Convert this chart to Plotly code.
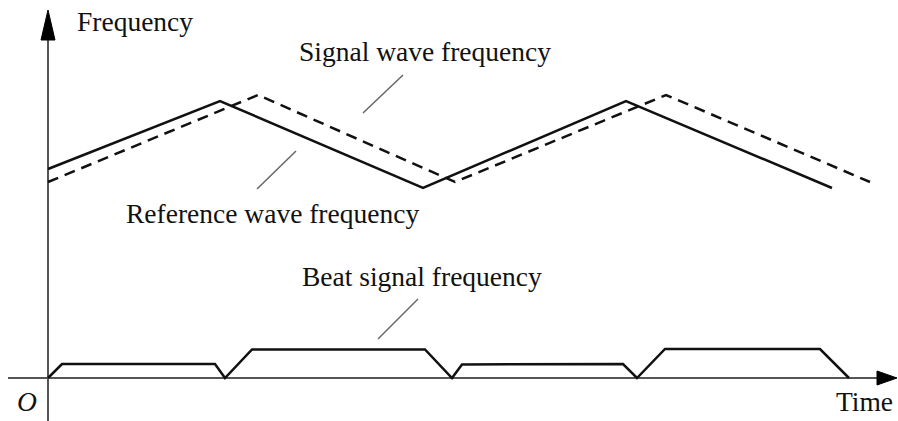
import plotly.graph_objects as go

# ---- data (time / frequency units, origin at the axes crossing) ----
ref_t = [0, 172, 375, 578, 784]
ref_f = [209, 277, 190, 277, 190]

sig_t = [0, 210, 407, 618, 822]
sig_f = [196, 283, 196, 283, 196]

beat_t = [0, 14, 167, 177, 204, 377, 404, 414, 575, 589, 617, 772, 801]
beat_f = [0, 14, 14, 0, 28.5, 28.5, 0, 13.5, 14, 0, 29, 29, 0]

# axis extents
x_min, x_max = -48, 850
y_min, y_max = -43, 378

FONT = "Liberation Serif, Times New Roman, serif"
AXC = "#555555"

fig = go.Figure()

# axes (drawn as arrows)
fig.add_trace(go.Scatter(x=[-40, 829], y=[0, 0], mode="lines",
                         line=dict(color=AXC, width=2), hoverinfo="skip"))
fig.add_trace(go.Scatter(x=[0, 0], y=[-43, 340], mode="lines",
                         line=dict(color=AXC, width=2), hoverinfo="skip"))
# arrow heads
fig.add_trace(go.Scatter(x=[829, 849, 829, 829], y=[7, 0, -7, 7], mode="lines",
                         fill="toself", fillcolor="black",
                         line=dict(color="black", width=1), hoverinfo="skip"))
fig.add_trace(go.Scatter(x=[-7, 0, 7, -7], y=[338, 368, 338, 338], mode="lines",
                         fill="toself", fillcolor="black",
                         line=dict(color="black", width=1), hoverinfo="skip"))

# series
fig.add_trace(go.Scatter(x=ref_t, y=ref_f, mode="lines", name="Reference wave frequency",
                         line=dict(color="#111111", width=2.5)))
fig.add_trace(go.Scatter(x=sig_t, y=sig_f, mode="lines", name="Signal wave frequency",
                         line=dict(color="#111111", width=2.5, dash="11px,7px")))
fig.add_trace(go.Scatter(x=beat_t, y=beat_f, mode="lines", name="Beat signal frequency",
                         line=dict(color="#111111", width=2.5)))

# leader lines
leaders = [((315, 265), (355, 303)),   # signal
           ((209, 189), (248, 227)),   # reference
           ((330, 39), (370, 79))]     # beat
for (x0, y0), (x1, y1) in leaders:
    fig.add_shape(type="line", x0=x0, y0=y0, x1=x1, y1=y1, xref="x", yref="y",
                  line=dict(color="#666666", width=1.5))

labels = [
    ("Frequency", 86.5, 357),
    ("Signal wave frequency", 377, 327),
    ("Reference wave frequency", 224.5, 165),
    ("Beat signal frequency", 373.5, 102),
    ("Time", 816, -23),
    ("<i>O</i>", -21, -23),
]
for txt, x, y in labels:
    fig.add_annotation(x=x, y=y, text=txt, showarrow=False, xanchor="center",
                       yanchor="middle", font=dict(family=FONT, size=27.5, color="#111111"))

fig.update_layout(
    width=898, height=421,
    margin=dict(l=0, r=0, t=0, b=0),
    paper_bgcolor="white", plot_bgcolor="white",
    showlegend=False, hovermode=False,
    xaxis=dict(range=[x_min, x_max], visible=False, fixedrange=True),
    yaxis=dict(range=[y_min, y_max], visible=False, fixedrange=True),
)

fig.write_html("out.html")
